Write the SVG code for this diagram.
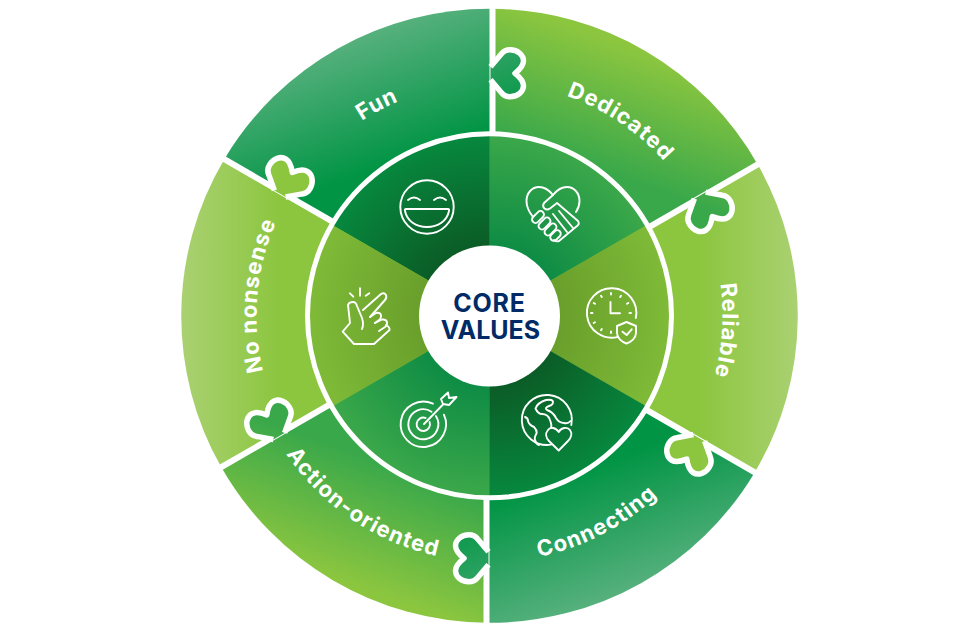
<svg xmlns="http://www.w3.org/2000/svg" xmlns:xlink="http://www.w3.org/1999/xlink" width="980" height="632" viewBox="0 0 980 632">
<style>
.ico{fill:none;stroke:#fff;stroke-width:1.9;stroke-linecap:round;stroke-linejoin:round}
.lab{font-family:"Inter","Liberation Sans",sans-serif;font-weight:700;font-size:22px;fill:#fff;text-anchor:middle;letter-spacing:1.1px}
.core{font-family:"Inter","Liberation Sans",sans-serif;font-weight:700;font-size:25px;fill:#002b66;text-anchor:middle}
.sep{stroke:#fff;stroke-width:6;fill:none}
.tab{stroke:#fff;stroke-width:5.5;stroke-linejoin:round}
</style>
<defs>
<path id="wedge" d="M0,0L3,-307A307,307 0 0 0 -264.4,-156.1Z"/>
<path id="iw" d="M0,0L0,-183A183,183 0 0 0 -158.5,-91.5Z"/>
<path id="tab" class="tab" d="M1,-249L12,-262C14,-264.500 17,-266 20.500,-266C28.500,-266 34,-260.500 34,-255C34,-250 30,-246 25.500,-242.500C30,-239 34,-235 34,-230C34,-224.500 28.500,-219 20.500,-219C17,-219 14,-220.500 12,-223L1,-236"/>
<path id="cw" d="M-201.800,-116.500A233,233 0 0 1 201.800,-116.500"/>
<path id="ccw" d="M-213,123A246,246 0 0 0 213,123"/>
<linearGradient id="gDark" gradientUnits="userSpaceOnUse"><stop offset="0" stop-color="#009444"/><stop offset="1" stop-color="#58b17e"/></linearGradient>
<linearGradient id="gMid" gradientUnits="userSpaceOnUse"><stop offset="0" stop-color="#39a84a"/><stop offset="1" stop-color="#8cc63f"/></linearGradient>
<linearGradient id="gLite" gradientUnits="userSpaceOnUse"><stop offset="0" stop-color="#8cc63f"/><stop offset="1" stop-color="#aad172"/></linearGradient>
<linearGradient id="g0" href="#gDark" x1="-60" y1="-164" x2="-106" y2="-291"/>
<linearGradient id="g1" href="#gMid" x1="60" y1="-164" x2="103" y2="-282" gradientTransform="rotate(-60)"/>
<linearGradient id="g2" href="#gLite" x1="210" y1="0" x2="308" y2="0" gradientTransform="rotate(-120)"/>
<linearGradient id="g3" href="#gDark" x1="60" y1="164" x2="106" y2="291" gradientTransform="rotate(-180)"/>
<linearGradient id="g4" href="#gMid" x1="-60" y1="164" x2="-103" y2="282" gradientTransform="rotate(-240)"/>
<linearGradient id="g5" href="#gLite" x1="-210" y1="0" x2="-308" y2="0" gradientTransform="rotate(-300)"/>
<radialGradient id="iDark" gradientUnits="userSpaceOnUse" cx="0" cy="0" r="183"><stop offset=".38" stop-color="#0b5c26"/><stop offset="1" stop-color="#07893f"/></radialGradient>
<radialGradient id="iMid" gradientUnits="userSpaceOnUse" cx="0" cy="0" r="183"><stop offset=".38" stop-color="#0e8c45"/><stop offset="1" stop-color="#3ca84a"/></radialGradient>
<radialGradient id="iLite" gradientUnits="userSpaceOnUse" cx="0" cy="0" r="183"><stop offset=".38" stop-color="#699f2b"/><stop offset="1" stop-color="#7fbb38"/></radialGradient>
</defs>

<g id="wheel" transform="translate(489.5,315.8)">
  <g id="outer-segments" transform="scale(1.004,1)">
    <use href="#wedge" fill="url(#g0)"/>
    <use href="#wedge" fill="url(#g1)" transform="rotate(60)"/>
    <use href="#wedge" fill="url(#g2)" transform="rotate(120)"/>
    <use href="#wedge" fill="url(#g3)" transform="rotate(180)"/>
    <use href="#wedge" fill="url(#g4)" transform="rotate(240)"/>
    <use href="#wedge" fill="url(#g5)" transform="rotate(300)"/>
  </g>
  <g id="connectors">
    <path class="sep" d="M3,-312V-180"/>
    <path class="sep" d="M3,-312V-180" transform="rotate(60)"/>
    <path class="sep" d="M3,-312V-180" transform="rotate(120)"/>
    <path class="sep" d="M3,-312V-180" transform="rotate(180)"/>
    <path class="sep" d="M3,-312V-180" transform="rotate(240)"/>
    <path class="sep" d="M3,-312V-180" transform="rotate(300)"/>
    <use href="#tab" fill="url(#g0)"/>
    <use href="#tab" fill="url(#g1)" transform="rotate(60)"/>
    <use href="#tab" fill="url(#g2)" transform="rotate(120)"/>
    <use href="#tab" fill="url(#g3)" transform="rotate(180)"/>
    <use href="#tab" fill="url(#g4)" transform="rotate(240)"/>
    <use href="#tab" fill="url(#g5)" transform="rotate(300)"/>
  </g>
  <g id="inner-segments">
    <use href="#iw" fill="url(#iDark)"/>
    <use href="#iw" fill="url(#iMid)" transform="rotate(60)"/>
    <use href="#iw" fill="url(#iLite)" transform="rotate(120)"/>
    <use href="#iw" fill="url(#iDark)" transform="rotate(180)"/>
    <use href="#iw" fill="url(#iMid)" transform="rotate(240)"/>
    <use href="#iw" fill="url(#iLite)" transform="rotate(300)"/>
    <circle r="182" fill="none" stroke="#fff" stroke-width="5"/>
  </g>
  <g id="label-fun"><text class="lab" transform="rotate(-28)"><textPath href="#cw" startOffset="50%">Fun</textPath></text></g>
  <g id="label-dedicated"><text class="lab" transform="rotate(34)"><textPath href="#cw" startOffset="50%">Dedicated</textPath></text></g>
  <g id="label-reliable"><text class="lab" transform="rotate(93.6)"><textPath href="#cw" startOffset="50%">Reliable</textPath></text></g>
  <g id="label-connecting"><text class="lab" transform="rotate(-27.4)"><textPath href="#ccw" startOffset="50%">Connecting</textPath></text></g>
  <g id="label-action"><text class="lab" transform="rotate(34)"><textPath href="#ccw" startOffset="50%">Action-oriented</textPath></text></g>
  <g id="label-nonsense"><text class="lab" transform="rotate(-85)"><textPath href="#cw" startOffset="50%">No nonsense</textPath></text></g>
</g>

<g id="icon-smile" class="ico">
  <circle cx="427" cy="207" r="26.7"/>
  <path d="M408,200Q414,195 420,200M434,200Q440,195 446,200"/>
  <path d="M406,209H448Q449.5,209 449,211C447,221 438,227 427,227C416,227 407,221 405,211Q404.5,209 406,209Z"/>
</g>
<g id="icon-handshake" class="ico">
  <path d="M533,217C529,212 526.500,207 526.500,201C526.500,193 532,187 539,187C544,187 549,190 553,195C557,190 562,187 567,187C574,187 579.500,193 579.500,201C579.500,205 578,209 576,212"/>
  <path d="M553,195L544,203Q542,206 544.500,208.500Q547,210.500 550,208.500L557,203L578,221Q580,224 577,226L559,241Q556,242 554,240"/>
  <path d="M559,211L573,228M553,214L567,232"/>
  <rect x="531" y="213.500" width="14" height="7" rx="3.500" transform="rotate(-45 538 217)"/>
  <rect x="537.500" y="220" width="14" height="7" rx="3.500" transform="rotate(-45 544.500 223.500)"/>
  <rect x="543.500" y="226" width="14" height="7" rx="3.500" transform="rotate(-45 550.500 229.500)"/>
  <rect x="549.500" y="232" width="12" height="7" rx="3.500" transform="rotate(-45 555.500 235.500)"/>
</g>
<g id="icon-clock" class="ico">
  <path d="M635.800,318A24.700,24.700 0 1 0 618,336.800"/>
  <path d="M610.500,302V313.300H620"/>
  <path d="M611,293v1.500M601,295.700l.8,1.300M593.700,303l1.300,.8M591,313h1.500M593.700,323l1.300,-.8M601,330.300l.8,-1.300M611,333v-1.500M621,295.700l-.8,1.300M628.300,303l-1.300,.8M631,313h-1.500"/>
  <path d="M626.500,322L636,326V333C636,338 631,342 626.500,343.500C622,342 617,338 617,333V326Z"/>
  <path d="M622.500,331.700L626.700,335L631.700,329.300"/>
</g>
<g id="icon-globe" class="ico">
  <path d="M571.300,425A25,25 0 1 0 551,444.600"/>
  <path d="M558.700,432C556,427.500 550,426.500 548,430C545,433.500 546,438 549,441L558.700,450.500L568,441C571,438 572.500,433.500 570,430C567.500,426.500 561,427.500 558.700,432Z"/>
  <path d="M535.500,408.500Q537,403 546,400Q553,399 553,402Q553,405 549,406Q544,408 547,410Q553,412 556,418Q559,423 564,423Q568,424 570.500,421M535.500,408.500Q538,414 542,414Q548,414 550,420Q552,425 551,428"/>
  <path d="M525,417Q528,418 528,421Q529,425 534,427Q537,430 536.700,433Q534,438 535,440Q536,444 539,445"/>
</g>
<g id="icon-target" class="ico">
  <path d="M432.900,403.700A22.700,22.700 0 1 0 443.900,414.700"/>
  <path d="M431.500,411.700A15,15 0 1 0 435.900,416.100"/>
  <path d="M425.600,418A6.700,6.700 0 1 0 429.600,422"/>
  <path d="M424,424L443,404.500"/>
  <path d="M443,404L441,399L448,392.500L449,398L456.500,397L449,405Z"/>
</g>
<g id="icon-hand" class="ico">
  <path d="M360,288.300V295.700M350,293.300L353.300,296.700M365.700,295.700L369.300,293.300"/>
  <path d="M363,310L381,294Q384,292 386,295Q387,298 385,300L370,317"/>
  <path d="M370,317L376,313Q380,312 381,315Q381.500,318 379,320L375,323"/>
  <path d="M375,323L382,319.500Q386,319 387,322Q387.500,325 385,327L379,331"/>
  <path d="M386,325Q390,327 389.500,330L374,344H354L342.700,331.700L350,323L348,305Q349,302 353,302Q356,302 357,306L362,318Q364,324 362,329"/>
</g>
<g id="core">
  <circle cx="489.500" cy="316" r="70.500" fill="#fff"/>
  <text class="core"><tspan x="489.500" y="312" letter-spacing=".8">CORE</tspan><tspan x="490.500" y="339">VALUES</tspan></text>
</g>
</svg>
